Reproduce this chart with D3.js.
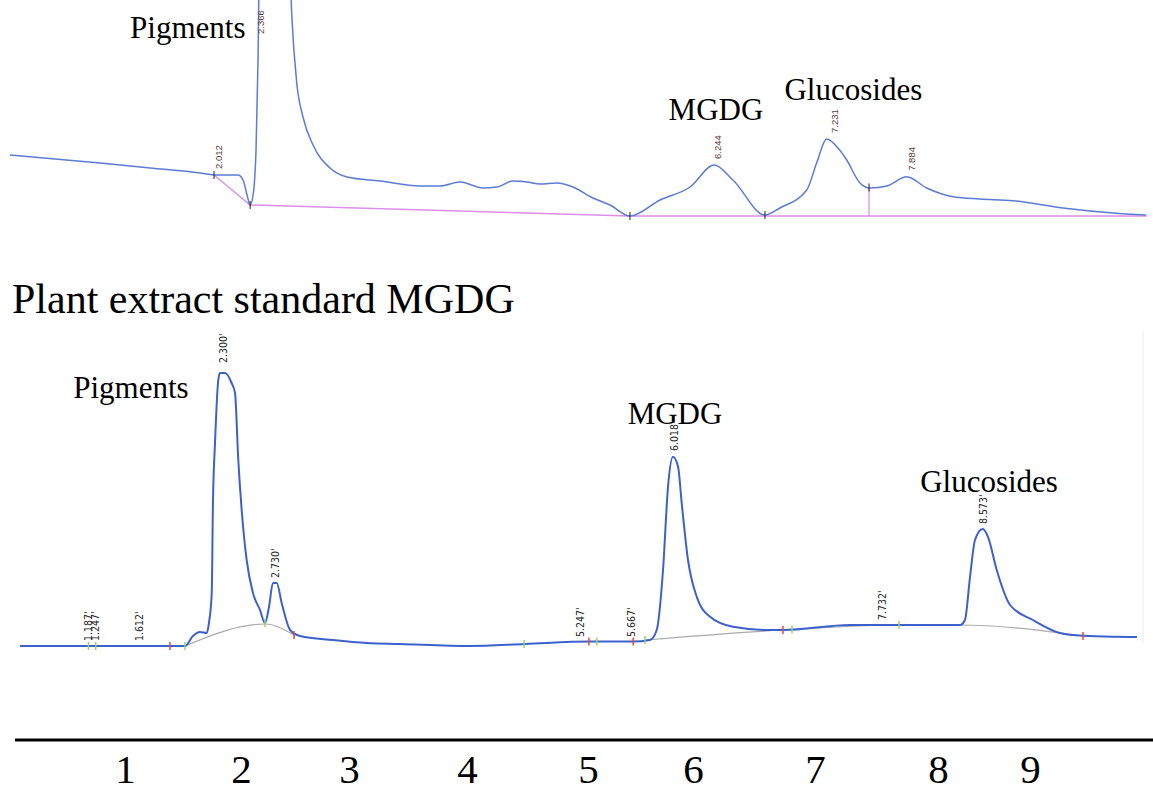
<!DOCTYPE html>
<html>
<head>
<meta charset="utf-8">
<script src="https://cdn.jsdelivr.net/npm/d3@7"></script>
<style>
  body { margin: 0; background: #fff; }
  svg { display: block; }
  .name { font-family: "Liberation Serif", "Times New Roman", serif; fill: #000; }
  .rt-top { font-family: "Liberation Sans", Arial, sans-serif; font-size: 9.5px; fill: #5a3b3b; }
  .rt-bot { font-family: "Liberation Sans Narrow", "DejaVu Sans Condensed", sans-serif; font-stretch: condensed; font-size: 10.5px; fill: #222; }
  .frac text { font-family: "Liberation Serif", "Times New Roman", serif; font-size: 41px; fill: #000; }
</style>
</head>
<body>
<svg width="1153" height="794"></svg>
<script>
// upper run: [retention time (min), signal]
const topTrace = [
  [0.283, 30.5], [1.046, 26.5], [1.469, 24], [1.893, 21.5], [2.012, 20.5], [2.215, 20.5],
  [2.258, 18], [2.292, 10.5], [2.318, 5.5], [2.343, 10.5], [2.368, 33], [2.385, 78],
  [2.402, 158], [2.44, 330], [2.55, 300], [2.639, 150], [2.67, 101.5], [2.713, 66.5],
  [2.766, 49.5], [2.851, 35.5], [2.995, 24], [3.139, 19.5], [3.418, 17.5], [3.758, 15],
  [3.927, 15], [4.097, 17], [4.292, 14], [4.41, 14.5], [4.546, 17.5], [4.664, 17],
  [4.775, 16], [4.919, 16.5], [5.054, 14.5], [5.224, 9], [5.368, 5.5], [5.537, 0],
  [5.792, 8], [6.046, 14.5], [6.25, 25.5], [6.41, 18], [6.681, 0.5], [6.808, 4],
  [7.035, 13], [7.119, 26.5], [7.204, 38.5], [7.3, 34], [7.374, 28], [7.486, 16.5],
  [7.571, 14], [7.713, 15], [7.882, 19.6], [8.052, 14], [8.275, 9.6], [8.503, 8.5],
  [8.783, 7.6], [9.207, 4], [9.63, 1.5], [9.91, 0.5]
];
const topBaseline = [[2.012, 20.5], [2.318, 5.5], [5.537, 0], [9.92, 0]];
const topDrop = [7.563, 14.3];
const topMarks = [[2.012, 20.5], [2.318, 5.5], [5.537, 0], [6.681, 0.5], [7.563, 14.3]];
const topPeaks = [["2.012", 2.012, 20.5], ["2.366", 2.366, 200], ["6.244", 6.244, 25.5],
                  ["7.231", 7.231, 38.5], ["7.884", 7.884, 19.6]];

// standard run
const botTrace = [
  [0.623, 0], [1.282, 0], [1.72, 0], [1.983, 0], [2.049, 5], [2.107, 7], [2.163, 6.5],
  [2.181, 11.5], [2.204, 26.5], [2.214, 71.5], [2.231, 101.5], [2.258, 133], [2.272, 136.5],
  [2.313, 136.5], [2.368, 131.5], [2.396, 126.5], [2.423, 93], [2.451, 68], [2.492, 43],
  [2.544, 26.5], [2.602, 18], [2.643, 11.5],
  [2.676, 19.5], [2.709, 31.5], [2.74, 31.5], [2.781, 21.5], [2.85, 8], [2.932, 5],
  [3.204, 3], [3.482, 1.5], [3.757, 1], [4.334, 0], [4.788, 1], [5.324, 2.2], [5.68, 2.2],
  [5.818, 3], [5.874, 8], [5.926, 38], [5.967, 79.6], [6.008, 94.6], [6.05, 89.6],
  [6.08, 71.5], [6.132, 43], [6.204, 24.6], [6.313, 14.6], [6.503, 9.6], [6.781, 8],
  [6.915, 8], [7.468, 10.5], [7.74, 10.5], [8.375, 10.5], [8.416, 13], [8.458, 34.6],
  [8.499, 53], [8.562, 58.5], [8.606, 54.6], [8.678, 38], [8.788, 20.5], [8.977, 13],
  [9.2, 6.5], [9.39, 5.1], [9.668, 4.6], [9.835, 4.5]
];
const botBaselines = [
  [[1.983, 0], [2.643, 11], [2.883, 5.5]],
  [[5.777, 3], [6.915, 8], [7.88, 10.5], [8.375, 10.5], [9.39, 5]]
];
const botMarks = [
  [1.187, 0, "start"], [1.247, 0, "start"], [1.86, 0, "end"], [1.983, 0, "start"],
  [2.643, 11.5, "start"], [2.883, 5.5, "end"], [4.78, 1, "start"], [5.315, 2.2, "end"],
  [5.38, 2.2, "start"], [5.68, 2.2, "end"], [5.777, 3, "start"], [6.915, 8, "end"],
  [6.99, 8.2, "start"], [7.872, 10.5, "start"], [9.39, 5, "end"]
];
const botPeaks = [["1.187'", 1.187, 0], ["1.247'", 1.247, 0], ["1.612'", 1.612, 0],
                  ["2.300'", 2.3, 139], ["2.730'", 2.73, 31.5], ["5.247'", 5.247, 2],
                  ["5.667'", 5.667, 2], ["6.018'", 6.018, 95], ["7.732'", 7.732, 10.5],
                  ["8.573'", 8.573, 58.5]];

// compound names, centred on a retention time
const topNames = [["Pigments", 1.79], ["MGDG", 6.266], ["Glucosides", 7.43]];
const botNames = [["Pigments", 1.538], ["MGDG", 6.025], ["Glucosides", 8.615]];
const title = "Plant extract standard MGDG";
const fractions = [1, 2, 3, 4, 5, 6, 7, 8, 9];

window.onload = () => {
  const svg = d3.select("svg");

  const xTop = d3.scaleLinear().domain([0, 10]).range([-23.4, 1156.6]);
  const yTop = d3.scaleLinear().domain([0, 108]).range([216, 0]);
  const xBot = d3.scaleLinear().domain([0, 10]).range([-55.5, 1157]);
  const yBot = d3.scaleLinear().domain([0, 150]).range([646, 346]);

  drawTop(svg.append("g"), xTop, yTop);
  drawBottom(svg.append("g"), xBot, yBot);
  drawFractions(svg.append("g"));
}

const drawTop = (g, x, y) => {
  const line = d3.line().x(d => x(d[0])).y(d => y(d[1])).curve(d3.curveMonotoneX);

  g.append("path")
    .datum(topBaseline)
    .attr("d", d3.line().x(d => x(d[0])).y(d => y(d[1])))
    .attr("fill", "none").attr("stroke", "#dc8fe8").attr("stroke-width", 1.5);

  g.append("line")
    .attr("x1", x(topDrop[0])).attr("x2", x(topDrop[0]))
    .attr("y1", y(topDrop[1])).attr("y2", y(0))
    .attr("stroke", "#dc8fe8").attr("stroke-width", 1.3);

  g.append("path")
    .datum(topTrace)
    .attr("d", line)
    .attr("fill", "none").attr("stroke", "#5b7bd6").attr("stroke-width", 1.5);

  g.selectAll(".mark")
    .data(topMarks)
    .enter().append("line")
      .attr("x1", d => x(d[0])).attr("x2", d => x(d[0]))
      .attr("y1", d => y(d[1]) - 4).attr("y2", d => y(d[1]) + 4)
      .attr("stroke", "#222").attr("stroke-width", 1);

  g.selectAll(".rt-top")
    .data(topPeaks)
    .enter().append("text")
      .attr("class", "rt-top")
      .attr("transform", d => `translate(${x(d[1]) + 8}, ${Math.max(y(d[2]) - 6, 34)}) rotate(-90)`)
      .text(d => d[0]);

  const base = [38, 120, 100];
  g.selectAll(".name")
    .data(topNames)
    .enter().append("text")
      .attr("class", "name")
      .attr("text-anchor", "middle")
      .attr("x", d => x(d[1]))
      .attr("y", (d, i) => base[i])
      .attr("font-size", 31)
      .text(d => d[0]);
}

const drawBottom = (g, x, y) => {
  g.append("text")
    .attr("class", "name")
    .attr("x", 12).attr("y", 313)
    .attr("font-size", 42)
    .text(title);

  g.append("line")
    .attr("x1", 1143).attr("x2", 1143).attr("y1", 330).attr("y2", 642)
    .attr("stroke", "#ececec");

  const base = d3.line().x(d => x(d[0])).y(d => y(d[1])).curve(d3.curveMonotoneX);
  g.selectAll(".bl")
    .data(botBaselines)
    .enter().append("path")
      .attr("d", base)
      .attr("fill", "none").attr("stroke", "#ababab").attr("stroke-width", 1.2);

  g.append("path")
    .datum(botTrace)
    .attr("d", d3.line().x(d => x(d[0])).y(d => y(d[1])).curve(d3.curveMonotoneX))
    .attr("fill", "none").attr("stroke", "#3c61cc").attr("stroke-width", 2);

  g.selectAll(".mk")
    .data(botMarks)
    .enter().append("line")
      .attr("x1", d => x(d[0])).attr("x2", d => x(d[0]))
      .attr("y1", d => y(d[1]) - 4).attr("y2", d => y(d[1]) + 4)
      .attr("stroke", d => d[2] === "start" ? "#8ed66c" : "#e8483c")
      .attr("stroke-width", 1.5);

  g.selectAll(".rt-bot")
    .data(botPeaks)
    .enter().append("text")
      .attr("class", "rt-bot")
      .attr("transform", d => `translate(${x(d[1]) + 3.5}, ${y(d[2]) - 5}) rotate(-90)`)
      .text(d => d[0]);

  const base2 = [398, 424, 492];
  g.selectAll(".bname")
    .data(botNames)
    .enter().append("text")
      .attr("class", "name")
      .attr("text-anchor", "middle")
      .attr("x", d => x(d[1]))
      .attr("y", (d, i) => base2[i])
      .attr("font-size", 31)
      .text(d => d[0]);
}

const drawFractions = (g) => {
  const f = d3.scaleLinear()
    .domain(fractions)
    .range([125, 241, 349, 467, 588, 693, 815, 938, 1030]);

  g.append("line")
    .attr("x1", 15).attr("x2", 1153).attr("y1", 740).attr("y2", 740)
    .attr("stroke", "#000").attr("stroke-width", 3);

  const axis = g.append("g")
    .attr("class", "frac")
    .attr("transform", "translate(0, 752)")
    .call(d3.axisBottom(f).tickValues(fractions).tickSize(0).tickPadding(0).tickFormat(d3.format("d")));
  axis.select(".domain").remove();
  axis.selectAll("text").attr("dy", "0.75em").attr("y", 0);
}
</script>
</body>
</html>
